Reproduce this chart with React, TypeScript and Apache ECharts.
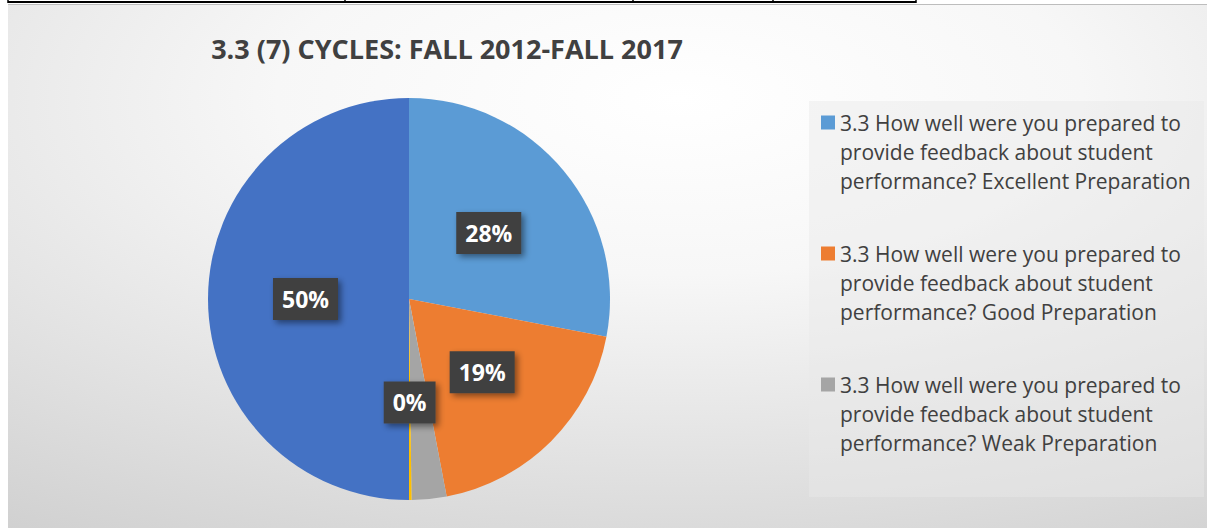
import React, { useEffect, useRef } from "react";
import * as echarts from "echarts";

const TITLE = "3.3 (7) CYCLES: FALL 2012-FALL 2017";
const QUESTION = "3.3 How well were you prepared to provide feedback about student performance?";
const categories = [
  "Excellent Preparation",
  "Good Preparation",
  "Weak Preparation",
  "Poor Preparation",
  "No Response",
];
const values = [28, 19, 2.8, 0.2, 50];
const colors = ["#5B9BD5", "#ED7D31", "#A5A5A5", "#FFC000", "#4472C4"];
const legendCount = 3;
const hiddenLabels = ["Weak Preparation"];
const tableLinesX = [8, 345, 633, 773, 916];

const fullName = (c: string) => `${QUESTION} ${c}`;
// two leading blank lines keep the first text line level with the legend marker
const wrapName = (n: string) =>
  "\n\n" + n.replace("prepared to ", "prepared to\n").replace("student ", "student\n");

export default function App() {
  const ref = useRef<HTMLDivElement>(null);
  useEffect(() => {
    document.body.style.margin = "0";
    const chart = echarts.init(ref.current!, undefined, { renderer: "svg" });
    const font = "'Open Sans', 'Noto Sans', sans-serif";
    const data = categories.map((c, i) => ({
      name: fullName(c),
      value: values[i],
      itemStyle: { color: colors[i] },
      label: { show: !hiddenLabels.includes(c) },
    }));
    const graphics: any[] = [
      {
        type: "rect",
        z: -10,
        shape: { x: 8, y: 4, width: 1199, height: 524 },
        style: {
          fill: new echarts.graphic.RadialGradient(0.56, 0.18, 1.12, [
            { offset: 0, color: "#ffffff" },
            { offset: 0.3, color: "#f7f7f7" },
            { offset: 1, color: "#c9c9c9" },
          ]),
        },
      },
      {
        type: "line",
        z: -9,
        shape: { x1: 8, y1: 4.5, x2: 1207, y2: 4.5 },
        style: { stroke: "#bdbdbd", lineWidth: 1 },
      },
      {
        type: "line",
        shape: { x1: tableLinesX[0], y1: 2, x2: tableLinesX[tableLinesX.length - 1], y2: 2 },
        style: { stroke: "#000", lineWidth: 2 },
      },
      ...tableLinesX.map((x) => ({
        type: "line",
        shape: { x1: x, y1: 0, x2: x, y2: 3 },
        style: { stroke: "#000", lineWidth: 1.5 },
      })),
      {
        type: "rect",
        z: -5,
        shape: { x: 809, y: 101, width: 395, height: 396 },
        style: { fill: "rgba(233,233,233,0.45)" },
      },
    ];
    chart.setOption({
      animation: false,
      title: {
        text: TITLE,
        left: 447,
        top: 35,
        textAlign: "center",
        padding: 0,
        textStyle: { fontFamily: font, fontWeight: "bold", fontSize: 27, color: "#404040" },
      },
      legend: {
        orient: "vertical",
        left: 821,
        top: 50,
        padding: 0,
        itemGap: -14,
        icon: "rect",
        itemWidth: 14,
        itemHeight: 14,
        selectedMode: false,
        data: categories.slice(0, legendCount).map(fullName),
        formatter: (n: string) => wrapName(n),
        textStyle: {
          fontFamily: font,
          fontSize: 21,
          color: "#404040",
          lineHeight: 29,
        },
      },
      graphic: graphics,
      series: [
        {
          type: "pie",
          center: [409, 299],
          radius: 201,
          startAngle: 90,
          clockwise: true,
          avoidLabelOverlap: false,
          data,
          label: {
            position: "inside",
            formatter: (p: any) => `${Math.round(p.percent)}%`,
            fontFamily: font,
            fontWeight: "bold",
            fontSize: 23,
            lineHeight: 22,
            color: "#ffffff",
            backgroundColor: "#404040",
            padding: [10, 9],
            shadowColor: "rgba(0,0,0,0.45)",
            shadowBlur: 6,
            shadowOffsetX: 3,
            shadowOffsetY: 3,
          },
          labelLine: { show: false },
          emphasis: { disabled: true },
        },
      ],
    });
    return () => chart.dispose();
  }, []);
  return <div ref={ref} style={{ width: 1207, height: 528 }} />;
}
